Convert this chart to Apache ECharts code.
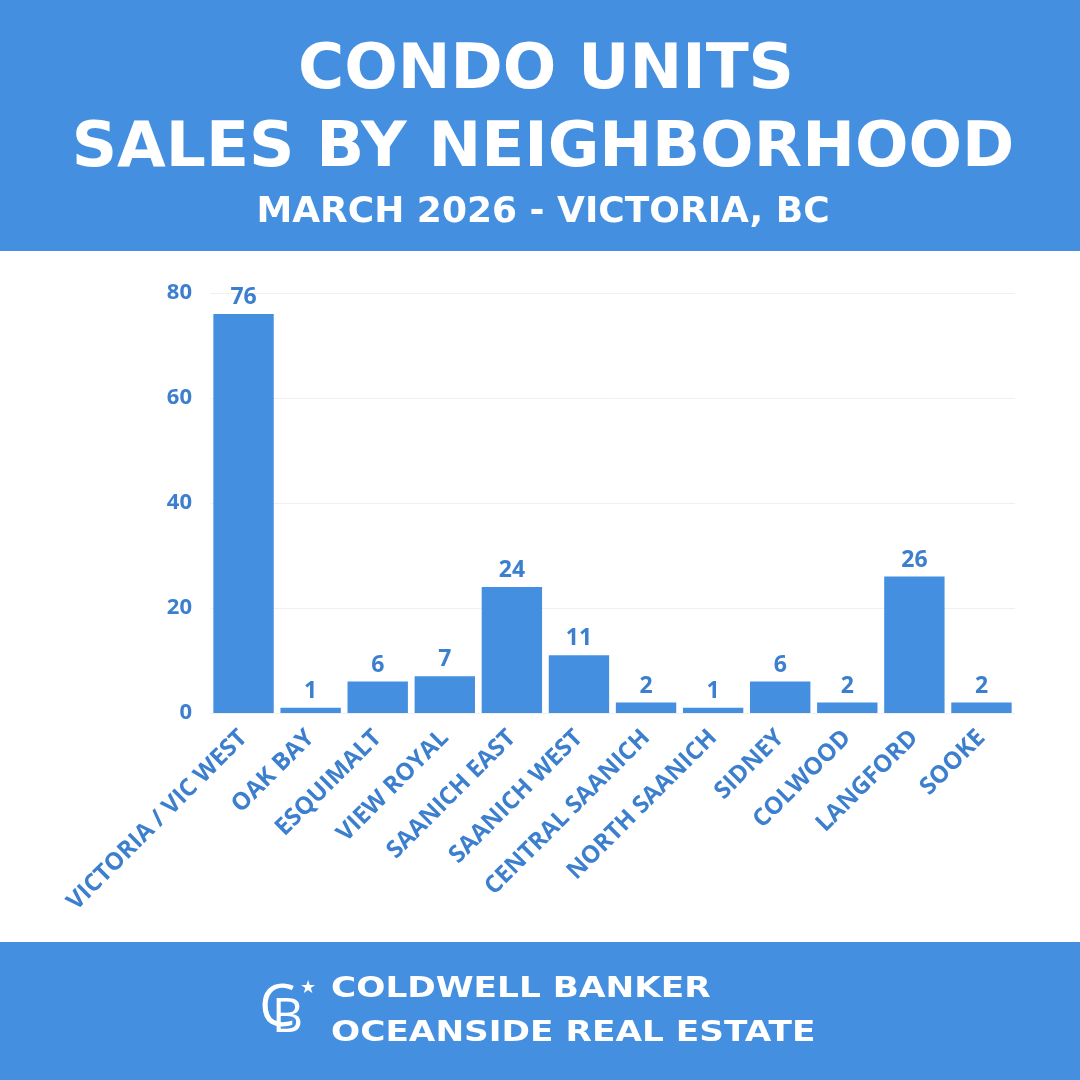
<!DOCTYPE html>
<html><head><meta charset="utf-8">
<script src="https://cdn.jsdelivr.net/npm/echarts@6/dist/echarts.min.js"></script>
<style>html,body{margin:0;padding:0;background:#fff}#c{width:1080px;height:1080px}</style>
</head><body><div id="c"></div>
<script>
const categories = ['VICTORIA / VIC WEST','OAK BAY','ESQUIMALT','VIEW ROYAL','SAANICH EAST','SAANICH WEST','CENTRAL SAANICH','NORTH SAANICH','SIDNEY','COLWOOD','LANGFORD','SOOKE'];
const sales = [76,1,6,7,24,11,2,1,6,2,26,2];
const yTicks = [0,20,40,60,80];
const titleLines = ['CONDO UNITS','SALES BY NEIGHBORHOOD'];
const subtitle = 'MARCH 2026 - VICTORIA, BC';
const footerLines = ['COLDWELL BANKER','OCEANSIDE REAL ESTATE'];

const blue = '#448fdf';
const labelBlue = '#3b7fce';
const chart = echarts.init(document.getElementById('c'));
chart.setOption({
  backgroundColor: '#ffffff',
  animation: false,
  grid: {left: 210, right: 65, top: 293, bottom: 367, containLabel: false},
  xAxis: {
    type: 'category', data: categories,
    axisLine: {show: false}, axisTick: {show: false},
    axisLabel: {interval: 0, rotate: 45, margin: 21, color: labelBlue, fontFamily: 'Open Sans', fontWeight: 'bold', fontSize: 24}
  },
  yAxis: {
    type: 'value', min: yTicks[0], max: yTicks[yTicks.length-1], interval: 20,
    axisLine: {show: false}, axisTick: {show: false},
    splitLine: {lineStyle: {color: '#f0f0f0', width: 1}},
    axisLabel: {margin: 18, color: labelBlue, fontFamily: 'Open Sans', fontWeight: 'bold', fontSize: 22}
  },
  series: [{
    type: 'bar', data: sales, barCategoryGap: '10%',
    itemStyle: {color: blue},
    label: {show: true, position: 'top', distance: 5, color: labelBlue, fontFamily: 'Open Sans', fontWeight: 'bold', fontSize: 23}
  }],
  graphic: [
    {type: 'rect', shape: {x: 0, y: 0, width: 1080, height: 251}, style: {fill: blue}, z: -1},
    {type: 'rect', shape: {x: 0, y: 942, width: 1080, height: 138}, style: {fill: blue}, z: -1},
    {type: 'text', x: 546, y: 72, style: {text: titleLines[0], fill: '#fff', font: 'bold 63px "DejaVu Sans"', textAlign: 'center', textVerticalAlign: 'middle'}},
    {type: 'text', x: 543, y: 150, style: {text: titleLines[1], fill: '#fff', font: 'bold 63px "DejaVu Sans"', textAlign: 'center', textVerticalAlign: 'middle'}},
    {type: 'text', x: 543, y: 213, style: {text: subtitle, fill: '#fff', font: 'bold 36px "DejaVu Sans"', textAlign: 'center', textVerticalAlign: 'middle'}},
    {type: 'text', x: 331, y: 990, scaleX: 1.226, style: {text: footerLines[0], fill: '#fff', font: 'bold 28px "DejaVu Sans"', textAlign: 'left', textVerticalAlign: 'middle'}},
    {type: 'text', x: 331, y: 1034, scaleX: 1.226, style: {text: footerLines[1], fill: '#fff', font: 'bold 28px "DejaVu Sans"', textAlign: 'left', textVerticalAlign: 'middle'}},
    {type: 'text', x: 259, y: 1009, style: {text: 'C', fill: '#fff', font: 'normal 58px "Open Sans"', textAlign: 'left', textVerticalAlign: 'middle'}},
    {type: 'text', x: 272, y: 1018, style: {text: 'B', fill: '#fff', font: 'normal 48px "Open Sans"', textAlign: 'left', textVerticalAlign: 'middle'}},
    {type: 'text', x: 300, y: 988, style: {text: '★', fill: '#fff', font: 'bold 18px "DejaVu Sans"', textAlign: 'left', textVerticalAlign: 'middle'}}
  ]
});
</script></body></html>
